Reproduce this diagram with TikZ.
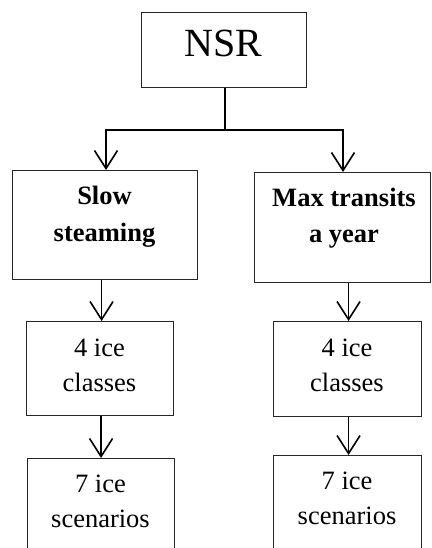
\documentclass[tikz,border=0pt]{standalone}
\usepackage{fontspec}
\setmainfont{Liberation Serif}
\usetikzlibrary{arrows.meta}
\begin{document}
\begin{tikzpicture}[x=1pt,y=1pt,
  box/.style={draw=black!85, line width=1.1pt, inner sep=0pt, anchor=north west},
  lbl/.style={inner sep=0pt, anchor=base, font=\fontsize{26.5}{32}\selectfont},
  blbl/.style={lbl, font=\fontsize{26.5}{32}\selectfont\bfseries},
  conn/.style={line width=1.8pt},
  arr/.style={conn, -{Straight Barb[length=18pt,width=23pt,line width=1.6pt]}}
  ]
  \clip (0,0) rectangle (431,548);
  \fill[white] (0,0) rectangle (431,548);
  % boxes
  \node[box, minimum width=165pt, minimum height=75pt] (nsr) at (141,536) {};
  \node[box, minimum width=185pt, minimum height=109pt] (ss) at (12,378) {};
  \node[box, minimum width=176pt, minimum height=110pt] (mt) at (254,376) {};
  \node[box, minimum width=147pt, minimum height=94pt] (c1) at (26,227) {};
  \node[box, minimum width=148pt, minimum height=95pt] (c2) at (273,227) {};
  \node[box, minimum width=147pt, minimum height=130pt] (s1) at (27,90) {};
  \node[box, minimum width=148pt, minimum height=130pt] (s2) at (273,93) {};
  % texts
  \node[lbl, font=\fontsize{40}{48}\selectfont] (tnsr) at (223.5,491) {NSR};
  \node[blbl] (tss1) at (104.5,343) {Slow};
  \node[blbl] (tss2) at (104.5,306) {steaming};
  \node[blbl] (tmt1) at (344,341) {Max transits};
  \node[blbl] (tmt2) at (344,305) {a year};
  \node[lbl] (tc11) at (99.5,191) {4 ice};
  \node[lbl] (tc12) at (99.5,156) {classes};
  \node[lbl] (tc21) at (347,191) {4 ice};
  \node[lbl] (tc22) at (347,156) {classes};
  \node[lbl] (ts11) at (100.5,55) {7 ice};
  \node[lbl] (ts12) at (100.5,20) {scenarios};
  \node[lbl] (ts21) at (347,58) {7 ice};
  \node[lbl] (ts22) at (347,23) {scenarios};
  % connectors
  \coordinate (j) at (225,418);
  \coordinate (jl) at (106,418);
  \coordinate (jr) at (343,418);
  \draw[conn] (nsr.south -| j) -- (j);
  \draw[arr] (j) -- (jl) -- (jl |- ss.north);
  \draw[arr] (j) -- (jr) -- (jr |- mt.north);
  \draw[arr] ([xshift=1.5pt]c1.north |- ss.south) -- ([xshift=1.5pt]c1.north);
  \draw[arr] ([xshift=1pt]c2.north |- mt.south) -- ([xshift=1pt]c2.north);
  \draw[arr] ([xshift=1pt]c1.south) -- ([xshift=1pt]c1.south |- s1.north);
  \draw[arr] ([xshift=1pt]c2.south) -- ([xshift=1pt]c2.south |- s2.north);
\end{tikzpicture}
\end{document}
